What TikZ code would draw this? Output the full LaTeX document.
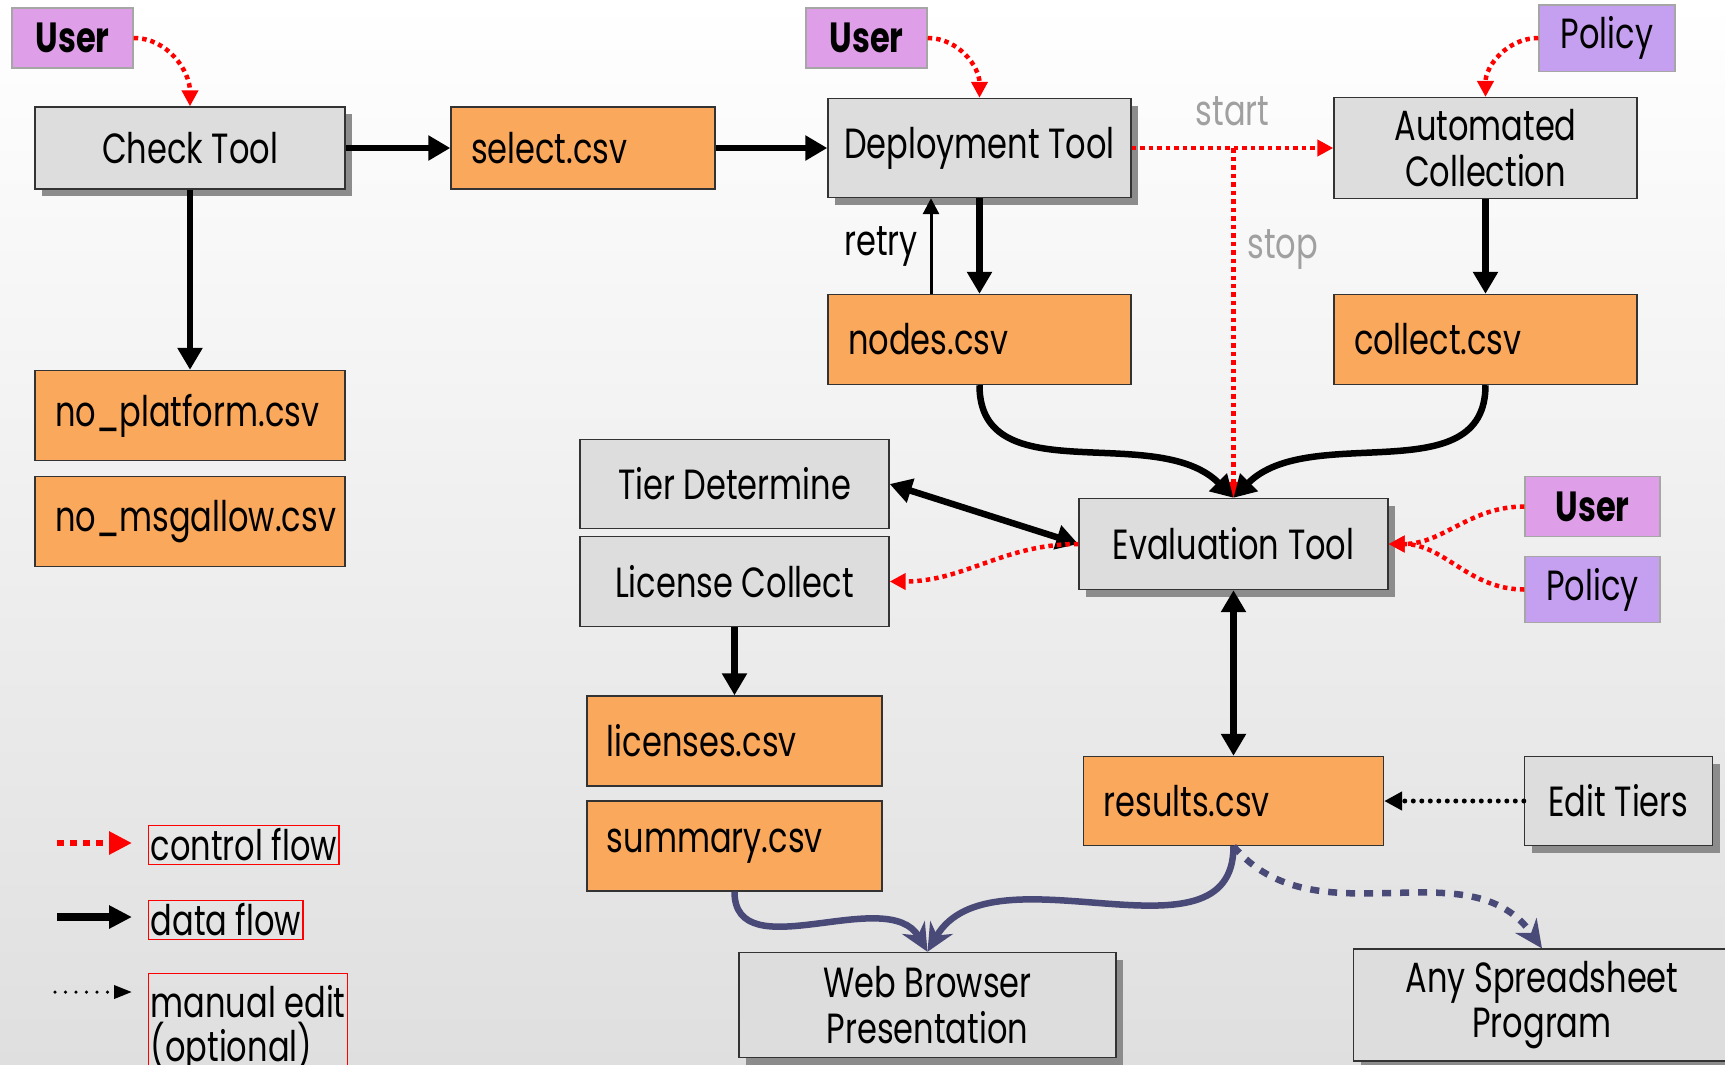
\documentclass[tikz,border=0pt]{standalone}
\usepackage{fontspec}
\setmainfont{Poppins}[FakeStretch=0.76]
\usetikzlibrary{shapes.geometric, arrows.meta, shadows}
\definecolor{toolgray}{RGB}{221,221,221}
\definecolor{fileorange}{RGB}{250,168,92}
\definecolor{userpink}{RGB}{222,158,232}
\definecolor{policyviolet}{RGB}{198,160,240}
\definecolor{flowslate}{RGB}{74,74,120}
\definecolor{labelgray}{RGB}{160,160,160}
\tikzstyle{tool} = [rectangle, minimum width=3.03cm, minimum height=0.99cm, text centered, align=center, draw=black!80, fill=toolgray]
\tikzstyle{shadowed} = [drop shadow={shadow xshift=0.07cm, shadow yshift=-0.07cm, fill=black!45, opacity=1}]
\tikzstyle{file} = [rectangle, inner xsep=0.2cm, minimum height=0.9cm, align=left, draw=black!80, fill=fileorange]
\tikzstyle{actor} = [rectangle, minimum width=1.21cm, minimum height=0.6cm, text centered, draw=black!35, fill=userpink]
\tikzstyle{key} = [rectangle, draw=red, line width=0.4pt, inner xsep=0.02cm, inner ysep=0.03cm, align=left]
\tikzstyle{ctrl} = [red, line width=0.045cm, dash pattern=on 0.045cm off 0.04cm, ->, >={Triangle[length=0.16cm,width=0.16cm]}]
\tikzstyle{data} = [line width=0.065cm, ->, >={Triangle[length=0.22cm,width=0.24cm]}]
\tikzstyle{manual} = [line width=0.05cm, line cap=round, dash pattern=on 0pt off 0.085cm, ->, >={Triangle[length=0.18cm,width=0.18cm]}]
\tikzstyle{present} = [flowslate, line width=0.065cm, ->, >={Stealth[length=0.28cm,width=0.26cm]}]
\begin{document}
\begin{tikzpicture}[node distance=1cm, font=\fontsize{12}{13}\selectfont]
\useasboundingbox (0,0) rectangle (17.25,-10.64);
\shade [top color=white, bottom color=gray!25] (0,0) rectangle (17.25,-10.64);

% Check stage
\node (check) [tool, shadowed, minimum width=3.1cm, minimum height=0.82cm] at (1.9,-1.48) {Check Tool};
\node (user1) [actor, left of=check, xshift=-0.175cm, yshift=1.1cm] {\textbf{User}};
\draw [ctrl] (user1.east) to[out=0, in=90] (check.north);
\node (noplat) [file, text width=2.7cm, below of=check, yshift=-1.675cm] {no\_platform.csv};
\node (nomsg) [file, text width=2.7cm, below of=noplat, yshift=-0.06cm] {no\_msgallow.csv};
\draw [data] (check) -- (noplat);
\node (select) [file, text width=2.24cm, minimum height=0.82cm, right of=check, xshift=2.93cm] {select.csv};
\draw [data] (check) -- (select);

% Deployment and collection
\node (deploy) [tool, shadowed, right of=select, xshift=2.965cm] {Deployment Tool};
\node (user2) [actor, left of=deploy, xshift=-0.13cm, yshift=1.1cm] {\textbf{User}};
\draw [data] (select) -- (deploy);
\draw [ctrl] (user2.east) to[out=0, in=90] (deploy.north);
\node (auto) [tool, right of=deploy, xshift=4.06cm] {Automated\\Collection};
\node (policy1) [actor, fill=policyviolet, minimum width=1.36cm, right of=auto, xshift=0.215cm, yshift=1.1cm] {Policy};
\draw [ctrl] (policy1.west) to[out=180, in=90] (auto.north);
\draw [ctrl] (deploy.east) -- node[above, yshift=0.08cm, text=labelgray] {start} (auto.west);
\node (nodes) [file, text width=2.63cm, below of=deploy, yshift=-0.915cm] {nodes.csv};
\node (collect) [file, text width=2.63cm, below of=auto, yshift=-0.915cm] {collect.csv};
\draw [data] (deploy) -- (nodes);
\draw [data, line width=0.03cm, >={Triangle[length=0.16cm,width=0.16cm]}] ([xshift=-0.485cm]nodes.north) -- node[left] {retry} ([xshift=-0.485cm]deploy.south);
\draw [data] (auto) -- (collect);

% Evaluation
\node (eval) [tool, shadowed, minimum width=3.09cm, minimum height=0.91cm, right of=nodes, xshift=1.54cm, yshift=-2.045cm] {Evaluation Tool};
\coordinate (split) at (eval |- deploy);
\draw [ctrl] (split) -- node[pos=0.29, right, text=labelgray] {stop} (eval.north);
\draw [data] (nodes.south) to[out=-90, in=135] (eval.north);
\draw [data] (collect.south) to[out=-90, in=45] (eval.north);
\node (user3) [actor, minimum width=1.35cm, right of=eval, xshift=2.59cm, yshift=0.375cm] {\textbf{User}};
\node (policy2) [actor, fill=policyviolet, minimum width=1.35cm, below of=user3, yshift=0.17cm] {Policy};
\draw [ctrl] (user3.west) to[out=180, in=0] (eval.east);
\draw [ctrl] (policy2.west) to[out=180, in=0] (eval.east);
\node (tier) [tool, minimum width=3.09cm, minimum height=0.89cm, left of=eval, xshift=-3.99cm, yshift=0.6cm] {Tier Determine};
\node (license) [tool, minimum width=3.09cm, minimum height=0.9cm, below of=tier, yshift=0.025cm] {License Collect};
\draw [data, <->] (tier.east) -- (eval.west);
\draw [ctrl] (eval.west) to[out=180, in=0] (license.east);
\node (licenses) [file, text width=2.55cm, below of=license, yshift=-0.595cm] {licenses.csv};
\node (summary) [file, text width=2.55cm, below of=licenses, yshift=-0.05cm] {summary.csv};
\draw [data] (license) -- (licenses);
\node (results) [file, text width=2.6cm, minimum height=0.89cm, below of=eval, yshift=-1.57cm] {results.csv};
\draw [data, <->] (eval) -- (results);
\node (edit) [tool, shadowed, minimum width=1.88cm, minimum height=0.89cm, right of=results, xshift=2.85cm] {Edit Tiers};
\draw [manual] (edit.west) -- (results.east);

% Presentation
\node (web) [tool, shadowed, minimum width=3.77cm, minimum height=1.05cm, below of=summary, xshift=1.93cm, yshift=-0.59cm] {Web Browser\\Presentation};
\node (sheet) [tool, shadowed, minimum width=3.77cm, minimum height=1.05cm, right of=web, xshift=5.145cm] {Any Spreadsheet\\Program};
\draw [present] (summary.south) to[out=-90, in=120] (web.north);
\draw [present] (results.south) to[out=-90, in=60] (web.north);
\draw [present, dash pattern=on 0.09cm off 0.09cm] (results.south) to[out=-50, in=125] (sheet.north);

% Legend
\node (ctrlkey) [key, anchor=west] at (1.48,-8.45) {control flow};
\coordinate (ctrlA) at (0.57,-8.43);
\coordinate (ctrlB) at (1.32,-8.43);
\draw [ctrl, line width=0.065cm, dash pattern=on 0.07cm off 0.06cm, >={Triangle[length=0.23cm,width=0.22cm]}] (ctrlA) -- (ctrlB);
\node (datakey) [key, anchor=west] at (1.48,-9.2) {data flow};
\coordinate (dataA) at (0.57,-9.17);
\coordinate (dataB) at (1.32,-9.17);
\draw [data, line width=0.08cm, >={Triangle[length=0.23cm,width=0.22cm]}] (dataA) -- (dataB);
\node (manualkey) [key, anchor=north west, minimum height=1.1cm, font=\fontsize{12}{12.5}\selectfont] at (1.48,-9.73) {manual edit\\(optional)};
\coordinate (manualA) at (0.55,-9.92);
\coordinate (manualB) at (1.32,-9.92);
\draw [manual, line width=0.035cm, dash pattern=on 0pt off 0.105cm, >={Triangle[length=0.18cm,width=0.13cm]}] (manualA) -- (manualB);
\end{tikzpicture}
\end{document}
